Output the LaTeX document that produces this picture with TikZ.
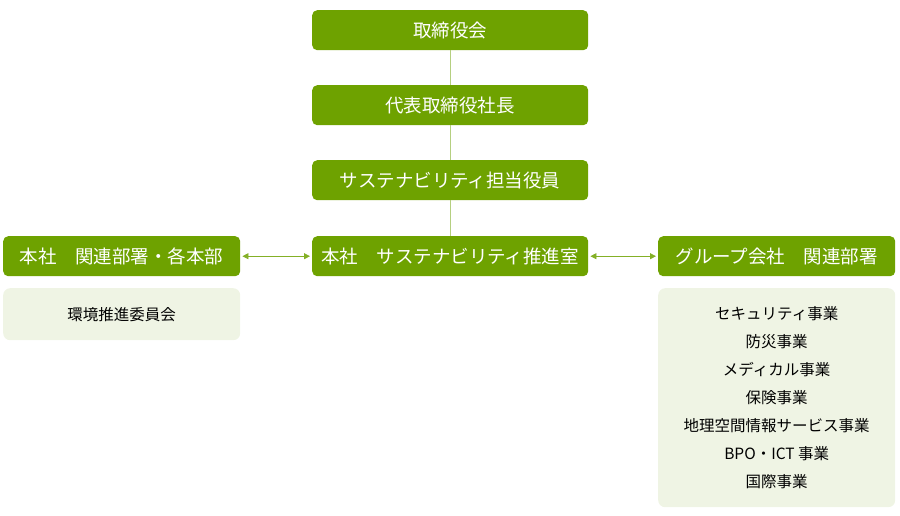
\documentclass[tikz,border=0pt]{standalone}
\usepackage{fontspec}
\setmainfont{Noto Sans CJK JP}
\usetikzlibrary{arrows.meta}
\definecolor{dgreen}{HTML}{6EA200}
\definecolor{lgreen}{HTML}{EFF4E4}
\definecolor{lline}{HTML}{B5CF80}
\begin{document}
\begin{tikzpicture}[x=1pt,y=-1pt,
  darkbox/.style={fill=dgreen,rounded corners=5pt,text=white,font=\fontsize{18.5}{20}\selectfont,inner sep=0pt,anchor=north west},
  lightbox/.style={fill=lgreen,rounded corners=7pt,text=black,font=\fontsize{15.5}{28}\selectfont,inner sep=0pt,anchor=north west,align=center},
  conn/.style={draw=lline,line width=1.2pt},
  biarrow/.style={draw=dgreen!85,line width=0.8pt,{Triangle[length=6pt,width=6pt]}-{Triangle[length=6pt,width=6pt]}}]
\useasboundingbox (0,0) rectangle (900,515);
\node[darkbox,minimum width=276pt,minimum height=40pt] (bod) at (312,10) {取締役会};
\node[darkbox,minimum width=276pt,minimum height=40pt] (pres) at (312,85) {代表取締役社長};
\node[darkbox,minimum width=276pt,minimum height=40pt] (exec) at (312,160) {サステナビリティ担当役員};
\node[darkbox,minimum width=276pt,minimum height=40pt] (office) at (312,236) {本社\hspace{1em}サステナビリティ推進室};
\node[darkbox,minimum width=237pt,minimum height=40pt] (left) at (3,236) {本社\hspace{1em}関連部署・各本部};
\node[darkbox,minimum width=237pt,minimum height=40pt] (right) at (658,236) {グループ会社\hspace{1em}関連部署};
\node[lightbox,minimum width=237pt,minimum height=52pt] (leftsub) at (3,288) {環境推進委員会};
\node[lightbox,minimum width=237pt,minimum height=219pt] (rightsub) at (658,288) {セキュリティ事業\\防災事業\\メディカル事業\\保険事業\\地理空間情報サービス事業\\BPO・ICT 事業\\国際事業};
\draw[conn] (bod.south) -- (pres.north);
\draw[conn] (pres.south) -- (exec.north);
\draw[conn] (exec.south) -- (office.north);
\draw[biarrow] ([xshift=2pt]left.east) -- ([xshift=-2pt]office.west);
\draw[biarrow] ([xshift=2pt]office.east) -- ([xshift=-2pt]right.west);
\end{tikzpicture}
\end{document}
